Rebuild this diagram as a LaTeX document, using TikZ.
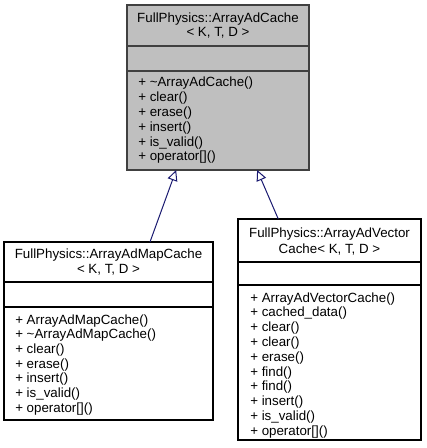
\documentclass[tikz,border=0pt]{standalone}
\usepackage{fontspec}
\setmainfont{Liberation Sans}
\usetikzlibrary{arrows.meta,calc,positioning}
\newlength{\pxl}
\setlength{\pxl}{0.75pt}
\definecolor{basefill}{HTML}{BFBFBF}
\definecolor{baseedge}{HTML}{404040}
\definecolor{edgeblue}{HTML}{191970}
\tikzset{
	classbox/.style={rectangle,draw=black,fill=white,line width=1pt,inner sep=0,outer sep=0,anchor=north west},
	baseclass/.style={classbox,draw=baseedge,fill=basefill},
	divider/.style={line width=1pt},
	classtitle/.style={anchor=base,inner sep=0,font=\fontsize{10pt}{12pt}\selectfont},
	member/.style={anchor=base west,inner sep=0,font=\fontsize{10pt}{12pt}\selectfont},
	inherit/.style={{Triangle[open,length=8pt,width=7.5pt]}-,color=edgeblue,line width=0.75pt}
}

\begin{document}
\begin{tikzpicture}[x=0.75pt,y=-0.75pt]
	\useasboundingbox (0,0) rectangle (426,448);
	
	%%%% ArrayAdCache
	\node[baseclass,minimum width=182\pxl,minimum height=165\pxl] (base) at (127,5) {};
	\node[classtitle] (base-t1) at (218,23) {FullPhysics::ArrayAdCache};
	\node[classtitle] (base-t2) at (218,37) {< K, T, D >};
	\draw[divider,baseedge] (base.west |- 0,46) -- (base.east |- 0,46);
	\draw[divider,baseedge] (base.west |- 0,71) -- (base.east |- 0,71);
	\foreach \m [count=\i from 0] in {+ \textasciitilde ArrayAdCache(), + clear(), + erase(), + insert(), + is\_valid(), + operator[]()}
		\node[member] (base-m\i) at (138,87+14.8*\i) {\m};
	
	%%%% ArrayAdMapCache
	\node[classbox,minimum width=209\pxl,minimum height=178\pxl] (mapcache) at (4,242) {};
	\node[classtitle] (map-t1) at (108.5,258) {FullPhysics::ArrayAdMapCache};
	\node[classtitle] (map-t2) at (108.5,273) {< K, T, D >};
	\draw[divider] (mapcache.west |- 0,282) -- (mapcache.east |- 0,282);
	\draw[divider] (mapcache.west |- 0,307) -- (mapcache.east |- 0,307);
	\foreach \m [count=\i from 0] in {+ ArrayAdMapCache(), + \textasciitilde ArrayAdMapCache(), + clear(), + erase(), + insert(), + is\_valid(), + operator[]()}
		\node[member] (map-m\i) at (15,324+14.7*\i) {\m};
	
	%%%% ArrayAdVectorCache
	\node[classbox,minimum width=183\pxl,minimum height=221\pxl] (vectorcache) at (238,219) {};
	\node[classtitle] (vec-t1) at (329.5,238) {FullPhysics::ArrayAdVector};
	\node[classtitle] (vec-t2) at (329.5,253) {Cache< K, T, D >};
	\draw[divider] (vectorcache.west |- 0,262) -- (vectorcache.east |- 0,262);
	\draw[divider] (vectorcache.west |- 0,285) -- (vectorcache.east |- 0,285);
	\foreach \m [count=\i from 0] in {+ ArrayAdVectorCache(), + cached\_data(), + clear(), + clear(), + erase(), + find(), + find(), + insert(), + is\_valid(), + operator[]()}
		\node[member] (vec-m\i) at (250,302+14.8*\i) {\m};
	
	%%%% inheritance
	\draw[inherit] ($(base.south)!0.46!(base.south west)$) -- ($(mapcache.north)!0.397!(mapcache.north east)$);
	\draw[inherit] ($(base.south)!0.43!(base.south east)$) -- ($(vectorcache.north)!0.56!(vectorcache.north west)$);
	
\end{tikzpicture}
\end{document}
